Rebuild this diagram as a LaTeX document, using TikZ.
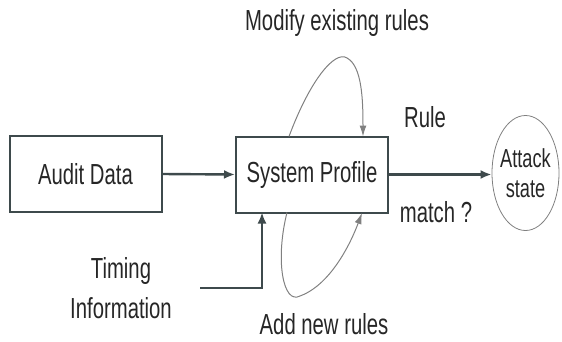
\documentclass[tikz,border=0pt]{standalone}
\usepackage{fontspec}
\setmainfont{Liberation Sans}[FakeStretch=0.7]
\usetikzlibrary{arrows.meta,positioning,shapes.geometric}
\definecolor{edgegray}{HTML}{3E4A4C}
\definecolor{textgray}{HTML}{262626}
\tikzset{
    blockbox/.style = {draw=edgegray, line width=2pt, minimum width=152pt, minimum height=76pt},
    lbl/.style = {text=textgray, font=\fontsize{29}{33}\selectfont},
    flow/.style = {draw=edgegray, line width=2.4pt, -{Latex[length=11pt,width=9pt]}},
    loop/.style = {draw=gray, line width=1pt, -{Latex[length=11pt,width=7pt]}}
}
\begin{document}
\begin{tikzpicture}[x=1pt, y=-1pt]
    \useasboundingbox (0,0) rectangle (562,341);
    \node [blockbox] (audit) at (85.5,174) {};
    \node [lbl] at (audit) {Audit Data};
    \node [blockbox] (profile) at (312,174.5) {};
    \node [lbl] at (profile) {System Profile};
    \node [draw=gray, line width=0.8pt, ellipse, minimum width=67pt, minimum height=115pt, inner sep=0pt] (attack) at (525.5,173) {};
    \node [lbl, align=center, font=\fontsize{26}{30}\selectfont] at (attack) {Attack\\state};
    % labels
    \node [lbl] (modify) at (337,23) {Modify existing rules};
    \node [lbl] (rule) at (425,117) {Rule};
    \node [lbl] (match) at (436,212) {match ?};
    \node [lbl, align=center, font=\fontsize{29}{40}\selectfont] (timing) at (121,288) {Timing\\Information};
    \node [lbl] (addnew) at (324,324) {Add new rules};
    % main flow
    \draw [flow] (audit.east) -- (profile.west);
    \draw [flow] (profile.east) -- (attack.west |- profile.east);
    \coordinate (tstart) at (200,288);
    \draw [flow, line width=2pt] (tstart) -- (262,288) -- (262,212.5);
    % rule loops
    \draw [loop] (289,136.5) .. controls (310,80) and (335,50) .. (347,58)
        .. controls (362,66) and (363,100) .. (363,136.5);
    \draw [loop] (287,212.5) .. controls (275,260) and (283,305) .. (300,296)
        .. controls (330,285) and (350,245) .. (362,213);
\end{tikzpicture}
\end{document}
